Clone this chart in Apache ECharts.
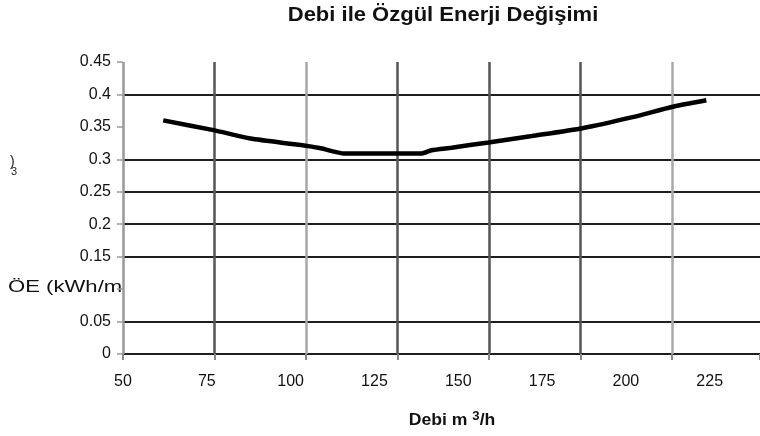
<!DOCTYPE html>
<html><head><meta charset="utf-8">
<script src="https://cdn.jsdelivr.net/npm/echarts@6/dist/echarts.min.js"></script>
<style>html,body{margin:0;padding:0;background:#fff}#c{width:760px;height:436px}</style>
</head><body><div id="c"></div>
<script>
// Data
const flowValues   = [62, 77, 88, 103, 109, 116, 127, 139, 142, 148, 159, 172, 187, 202, 214, 224];
const energyValues = [0.36, 0.345, 0.332, 0.322, 0.317, 0.309, 0.309, 0.309, 0.314, 0.318, 0.326, 0.336, 0.348, 0.365, 0.381, 0.391];
const xTickStart = 50, xTickStep = 25, xMax = 240;
const yTickStep = 0.05, yMax = 0.45;
const yHiddenLabels = [0.1];
const yDrawnLines = [0, 0.05, 0.15, 0.2, 0.25, 0.3, 0.4];
const vLineShades = ['#999', '#555', '#a8a8a8', '#555', '#555', '#555', '#a8a8a8'];

const FONT = 'Liberation Sans, Arial, sans-serif';
const chart = echarts.init(document.getElementById('c'), null, {renderer: 'canvas'});

const nY = Math.round(yMax / yTickStep);
const yLineColors = [];
for (let i = 0; i <= nY; i++) {
  const v = +(i * yTickStep).toFixed(2);
  yLineColors.push(yDrawnLines.some(d => Math.abs(d - v) < 1e-9) ? '#1e1e1e' : 'rgba(0,0,0,0)');
}

const gridLeft = 123, gridRight = 0, vLineGap = 91.5;
const plotW = 760 - gridLeft - gridRight;

chart.setOption({
  animation: false,
  backgroundColor: '#fff',
  grid: {left: gridLeft, right: gridRight, top: 62, bottom: 82, containLabel: false},
  xAxis: [{
    type: 'value', min: xTickStart, max: xMax, interval: xTickStep, position: 'bottom',
    axisLine: {show: false}, axisTick: {show: false}, splitLine: {show: false},
    axisLabel: {fontFamily: FONT, fontSize: 16, color: '#111', margin: 20, showMaxLabel: false}
  }, {
    type: 'value', min: 0, max: plotW / vLineGap, interval: 1, position: 'bottom',
    axisLine: {show: false}, axisLabel: {show: false},
    axisTick: {show: true, length: 6, lineStyle: {color: '#888', width: 2}},
    splitLine: {show: true, showMaxLine: false, lineStyle: {color: vLineShades, width: 2.5}}
  }],
  yAxis: {
    type: 'value', min: 0, max: yMax, interval: yTickStep,
    axisLine: {show: false},
    axisTick: {show: true, length: 6, lineStyle: {color: '#999', width: 1.5}},
    axisLabel: {
      fontFamily: FONT, fontSize: 16, color: '#111', margin: 12,
      formatter: v => yHiddenLabels.some(h => Math.abs(h - v) < 1e-9) ? '' : String(parseFloat(v.toFixed(2)))
    },
    splitLine: {show: true, lineStyle: {color: yLineColors, width: 2}}
  },
  series: [{
    type: 'line', xAxisIndex: 0,
    data: flowValues.map((x, i) => [x, energyValues[i]]),
    symbol: 'none', smooth: 0.2,
    lineStyle: {color: '#000', width: 4.5}, z: 5
  }],
  graphic: [
    {type: 'text', x: 443, y: 15, scaleX: 1.1, style: {text: 'Debi ile Özgül Enerji Değişimi', fontFamily: FONT, fontSize: 20, fontWeight: 'bold', fill: '#111', align: 'center', verticalAlign: 'middle'}},
    {type: 'text', x: 8, y: 287, scaleX: 1.3, style: {text: 'ÖE (kWh/m', fontFamily: FONT, fontSize: 17, fill: '#111', align: 'left', verticalAlign: 'middle'}},
    {type: 'text', x: 10, y: 162, style: {text: ')', fontFamily: FONT, fontSize: 14, fill: '#222', align: 'left', verticalAlign: 'middle'}},
    {type: 'text', x: 11, y: 172, style: {text: '3', fontFamily: FONT, fontSize: 11, fill: '#222', align: 'left', verticalAlign: 'middle'}},
    {type: 'text', x: 452, y: 421, scaleX: 1.1, style: {
      text: '{a|Debi m }{s|3}{a|/h}', align: 'center', verticalAlign: 'middle',
      rich: {
        a: {fontFamily: FONT, fontSize: 16, fontWeight: 'bold', fill: '#111', color: '#111'},
        s: {fontFamily: FONT, fontSize: 12, fontWeight: 'bold', fill: '#111', color: '#111', padding: [0, 0, 8, 0]}
      }
    }}
  ]
});
</script></body></html>
